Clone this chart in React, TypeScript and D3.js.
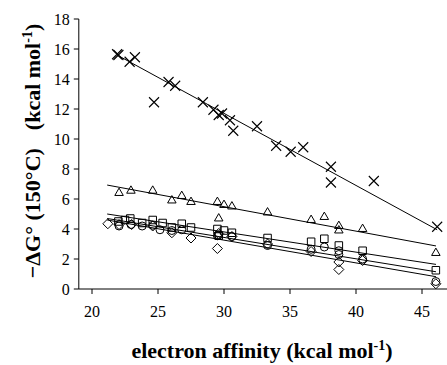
import React from "react";
import * as d3 from "d3";

const crosses: [number, number][] = [
  [21.9, 15.65], [22.0, 15.6], [22.85, 15.15], [23.25, 15.45], [24.7, 12.45], [25.8, 13.8],
  [26.3, 13.55], [28.4, 12.45], [29.2, 11.95], [29.6, 11.6], [29.85, 11.7], [30.45, 11.25],
  [30.7, 10.55], [32.5, 10.85], [33.95, 9.55], [35.05, 9.15], [36.0, 9.45], [38.1, 8.15],
  [38.1, 7.1], [41.35, 7.2], [46.15, 4.15],
];
const triangles: [number, number][] = [
  [22.05, 6.4], [22.95, 6.55], [24.6, 6.55], [26.05, 5.9], [26.8, 6.2], [27.5, 5.8],
  [29.5, 5.8], [29.6, 4.7], [30.0, 5.6], [30.6, 5.5], [33.3, 5.1], [36.6, 4.6], [37.6, 4.8],
  [38.7, 4.2], [38.7, 3.9], [40.5, 4.0], [46.05, 2.4],
];
const squares: [number, number][] = [
  [22.0, 4.5], [22.5, 4.6], [22.9, 4.7], [23.8, 4.4], [24.6, 4.6], [25.35, 4.4], [26.05, 4.1],
  [26.8, 4.35], [27.5, 4.1], [29.5, 4.0], [29.6, 3.55], [30.0, 3.9], [30.6, 3.75], [33.3, 3.4],
  [36.6, 3.15], [37.6, 3.35], [38.7, 2.9], [40.5, 2.55], [46.05, 1.25],
];
const circles: [number, number][] = [
  [22.05, 4.2], [22.95, 4.3], [23.8, 4.2], [24.6, 4.25], [25.15, 3.95], [26.05, 3.9],
  [26.8, 3.95], [29.5, 3.55], [29.6, 3.6], [30.6, 3.5], [33.3, 2.9], [36.6, 2.65], [37.6, 2.8],
  [38.7, 2.55], [38.7, 2.3], [40.5, 2.0], [46.05, 0.5],
];
const diamonds: [number, number][] = [
  [21.2, 4.35], [22.05, 4.3], [23.0, 4.3], [24.6, 4.2], [26.05, 3.75], [27.5, 3.4], [29.5, 2.7],
  [29.6, 3.7], [30.6, 3.5], [33.3, 3.0], [36.6, 2.5], [38.7, 1.8], [38.7, 1.3], [40.5, 1.9],
  [46.05, 0.35],
];

// fitted lines: [xStart, yStart, xEnd, yEnd]
const fitCrosses = [21.9, 15.6, 46.15, 3.95];
const fitTriangles = [21.15, 6.93, 46.06, 2.87];
const fitSquares = [21.15, 5.0, 46.06, 1.64];
const fitCircles = [21.15, 4.7, 46.06, 1.15];
const fitDiamonds = [21.15, 4.6, 46.06, 0.82];

const xTicks = [20, 25, 30, 35, 40, 45];
const yTicks = [0, 2, 4, 6, 8, 10, 12, 14, 16, 18];

const W = 447;
const H = 365;
const FONT = "Liberation Serif";

export default function App() {
  const x = d3.scaleLinear().domain([19, 47]).range([78.8, 448.4]);
  const y = d3.scaleLinear().domain([0, 18]).range([289, 19]);

  const line = (f: number[], key: string) => (
    <line key={key} x1={x(f[0])} y1={y(f[1])} x2={x(f[2])} y2={y(f[3])} stroke="#000" strokeWidth={1} />
  );

  const sym = (type: d3.SymbolType, size: number) => d3.symbol().type(type).size(size)() as string;
  const triPath = sym(d3.symbolTriangle2, 52);
  const sqPath = sym(d3.symbolSquare2, 72);
  const diaPath = (() => {
    const s = 5;
    return `M0,${-s}L${s},0L0,${s}L${-s},0Z`;
  })();

  return (
    <svg width={W} height={H} style={{ position: "absolute", left: 0, top: 0, background: "#fff", fontFamily: FONT }}>
      <rect width={W} height={H} fill="#fff" />
      {/* axes */}
      <line x1={x(19)} y1={y(0)} x2={x(19)} y2={y(18)} stroke="#000" strokeWidth={1} />
      <line x1={x(19)} y1={y(0)} x2={W} y2={y(0)} stroke="#000" strokeWidth={1} />
      {yTicks.map((t) => (
        <g key={"y" + t}>
          <line x1={x(19) - 5} x2={x(19)} y1={y(t)} y2={y(t)} stroke="#000" />
          <text x={x(19) - 9} y={y(t)} dy="0.35em" textAnchor="end" style={{ fontFamily: FONT, fontSize: 16 }}>
            {t}
          </text>
        </g>
      ))}
      {xTicks.map((t) => (
        <g key={"x" + t}>
          <line x1={x(t)} x2={x(t)} y1={y(0)} y2={y(0) + 5} stroke="#000" />
          <text x={x(t)} y={317} textAnchor="middle" style={{ fontFamily: FONT, fontSize: 16 }}>
            {t}
          </text>
        </g>
      ))}
      {/* fit lines */}
      {line(fitCrosses, "lc")}
      {line(fitTriangles, "lt")}
      {line(fitSquares, "ls")}
      {line(fitCircles, "lo")}
      {line(fitDiamonds, "ld")}
      {/* markers */}
      {crosses.map(([a, b], i) => (
        <path
          key={"c" + i}
          d={`M-5,-5L5,5M-5,5L5,-5`}
          transform={`translate(${x(a)},${y(b)})`}
          stroke="#000"
          strokeWidth={1.1}
          fill="none"
        />
      ))}
      {triangles.map(([a, b], i) => (
        <path key={"t" + i} d={triPath} transform={`translate(${x(a)},${y(b)})`} stroke="#000" fill="none" strokeWidth={1} />
      ))}
      {squares.map(([a, b], i) => (
        <path key={"s" + i} d={sqPath} transform={`translate(${x(a)},${y(b)})`} stroke="#000" fill="none" strokeWidth={1} />
      ))}
      {circles.map(([a, b], i) => (
        <circle key={"o" + i} cx={x(a)} cy={y(b)} r={4} stroke="#000" fill="none" strokeWidth={1} />
      ))}
      {diamonds.map(([a, b], i) => (
        <path key={"d" + i} d={diaPath} transform={`translate(${x(a)},${y(b)})`} stroke="#000" fill="none" strokeWidth={1} />
      ))}
      {/* axis titles */}
      <text
        transform="translate(40,151) rotate(-90)"
        textAnchor="middle"
        style={{ fontFamily: FONT, fontWeight: "bold", fontSize: 22 }}
      >
        −ΔG° (150°C)
        <tspan dx={18}>(kcal mol</tspan>
        <tspan dy={-8} fontSize={14}>-1</tspan>
        <tspan dy={8}>)</tspan>
      </text>
      <text x={262} y={358} textAnchor="middle" style={{ fontFamily: FONT, fontWeight: "bold", fontSize: 22 }}>
        electron affinity (kcal mol
        <tspan dy={-8} fontSize={14}>-1</tspan>
        <tspan dy={8}>)</tspan>
      </text>
    </svg>
  );
}
